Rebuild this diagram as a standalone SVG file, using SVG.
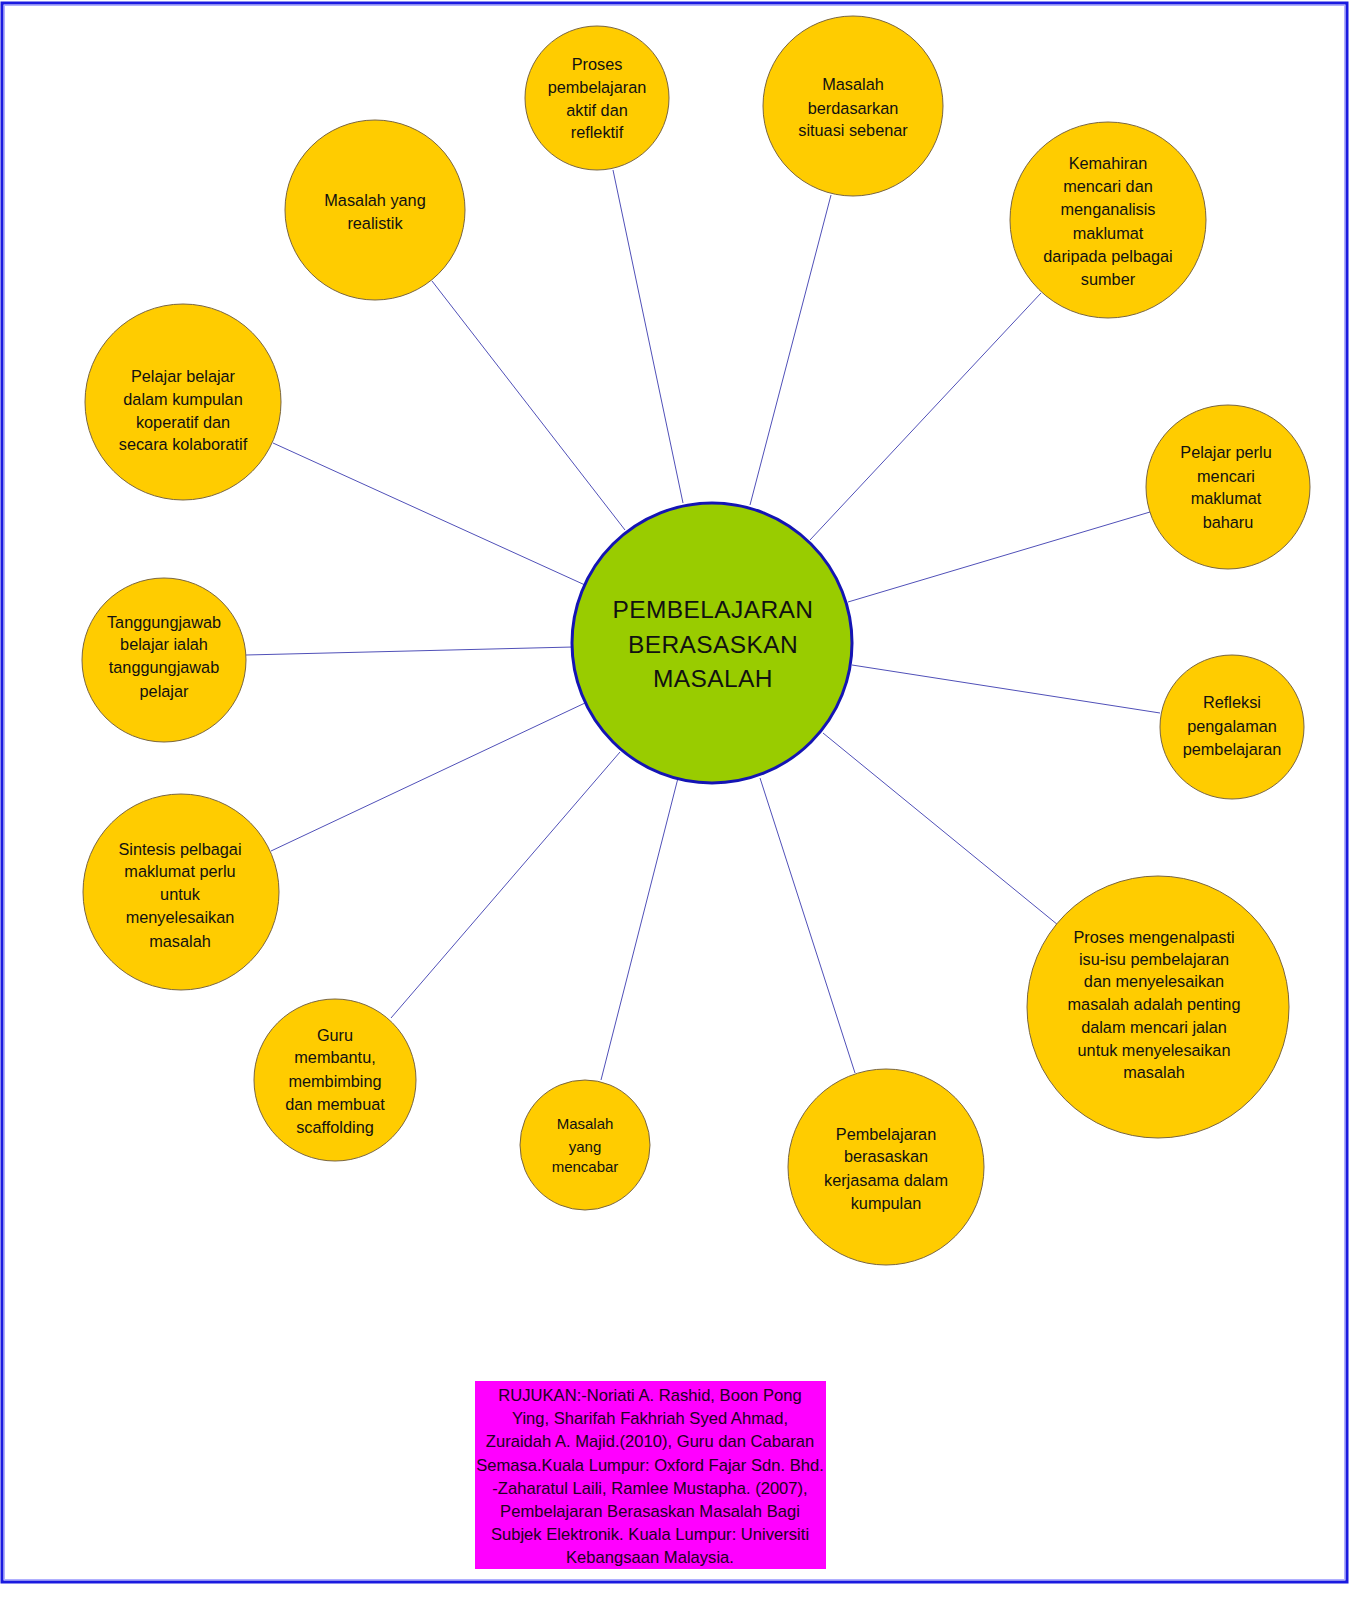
<svg xmlns="http://www.w3.org/2000/svg" width="1364" height="1600" viewBox="0 0 1364 1600">
<style>
.n{fill:#ffcc00;stroke:#7a6640;stroke-width:1}
.t{font-family:"Liberation Sans",Arial,sans-serif;font-size:16.3px;fill:#111;text-anchor:middle}
.c line{stroke:#5050b8;stroke-width:1}
.hub{fill:#99cc00;stroke:#1414b4;stroke-width:3}
.ht{font-family:"Liberation Sans",Arial,sans-serif;font-size:24.5px;fill:#111;text-anchor:middle;letter-spacing:0.4px}
.rt{font-family:"Liberation Sans",Arial,sans-serif;font-size:16.6px;fill:#220022;text-anchor:middle}
</style>
<rect x="0" y="0" width="1364" height="1600" fill="#ffffff"/>
<rect x="2" y="3" width="1345" height="1579" fill="none" stroke="#1a1ae0" stroke-width="3"/>
<rect x="4.5" y="5.5" width="1340" height="1574" fill="none" stroke="#b0b0ff" stroke-width="1"/>
<g class="c" id="connectors">
<line x1="625" y1="530" x2="432" y2="281"/>
<line x1="683" y1="503" x2="613" y2="170"/>
<line x1="750" y1="505" x2="831" y2="195"/>
<line x1="810" y1="540" x2="1041" y2="293"/>
<line x1="848" y1="602" x2="1150" y2="512"/>
<line x1="852" y1="665" x2="1160" y2="713"/>
<line x1="823" y1="733" x2="1058" y2="925"/>
<line x1="760" y1="778" x2="855" y2="1073"/>
<line x1="678" y1="778" x2="601" y2="1080"/>
<line x1="620" y1="752" x2="391" y2="1018"/>
<line x1="585" y1="703" x2="271" y2="851"/>
<line x1="573" y1="647" x2="246" y2="655"/>
<line x1="585" y1="585" x2="273" y2="443"/>
</g>
<g id="hub">
<circle class="hub" cx="712" cy="643" r="140"/>
<text class="ht" x="713" y="618">PEMBELAJARAN</text>
<text class="ht" x="713" y="653">BERASASKAN</text>
<text class="ht" x="713" y="687">MASALAH</text>
</g>
<g id="n1">
<circle class="n" cx="597" cy="98" r="72"/>
<text class="t" x="597" y="70">Proses</text>
<text class="t" x="597" y="93">pembelajaran</text>
<text class="t" x="597" y="116">aktif dan</text>
<text class="t" x="597" y="138">reflektif</text>
</g>
<g id="n2">
<circle class="n" cx="853" cy="106" r="90"/>
<text class="t" x="853" y="90">Masalah</text>
<text class="t" x="853" y="114">berdasarkan</text>
<text class="t" x="853" y="136">situasi sebenar</text>
</g>
<g id="n3">
<circle class="n" cx="1108" cy="220" r="98"/>
<text class="t" x="1108" y="169">Kemahiran</text>
<text class="t" x="1108" y="192">mencari dan</text>
<text class="t" x="1108" y="215">menganalisis</text>
<text class="t" x="1108" y="239">maklumat</text>
<text class="t" x="1108" y="262">daripada pelbagai</text>
<text class="t" x="1108" y="285">sumber</text>
</g>
<g id="n4">
<circle class="n" cx="1228" cy="487" r="82"/>
<text class="t" x="1226" y="458">Pelajar perlu</text>
<text class="t" x="1226" y="482">mencari</text>
<text class="t" x="1226" y="504">maklumat</text>
<text class="t" x="1228" y="528">baharu</text>
</g>
<g id="n5">
<circle class="n" cx="1232" cy="727" r="72"/>
<text class="t" x="1232" y="708">Refleksi</text>
<text class="t" x="1232" y="732">pengalaman</text>
<text class="t" x="1232" y="755">pembelajaran</text>
</g>
<g id="n6">
<circle class="n" cx="1158" cy="1007" r="131"/>
<text class="t" x="1154" y="943">Proses mengenalpasti</text>
<text class="t" x="1154" y="965">isu-isu pembelajaran</text>
<text class="t" x="1154" y="987">dan menyelesaikan</text>
<text class="t" x="1154" y="1010">masalah adalah penting</text>
<text class="t" x="1154" y="1033">dalam mencari jalan</text>
<text class="t" x="1154" y="1056">untuk menyelesaikan</text>
<text class="t" x="1154" y="1078">masalah</text>
</g>
<g id="n7">
<circle class="n" cx="886" cy="1167" r="98"/>
<text class="t" x="886" y="1140">Pembelajaran</text>
<text class="t" x="886" y="1162">berasaskan</text>
<text class="t" x="886" y="1186">kerjasama dalam</text>
<text class="t" x="886" y="1209">kumpulan</text>
</g>
<g id="n8">
<circle class="n" cx="585" cy="1145" r="65"/>
<text class="t" x="585" y="1129" style="font-size:15px">Masalah</text>
<text class="t" x="585" y="1152" style="font-size:15px">yang</text>
<text class="t" x="585" y="1172" style="font-size:15px">mencabar</text>
</g>
<g id="n9">
<circle class="n" cx="335" cy="1080" r="81"/>
<text class="t" x="335" y="1041">Guru</text>
<text class="t" x="335" y="1063">membantu,</text>
<text class="t" x="335" y="1087">membimbing</text>
<text class="t" x="335" y="1110">dan membuat</text>
<text class="t" x="335" y="1133">scaffolding</text>
</g>
<g id="n10">
<circle class="n" cx="181" cy="892" r="98"/>
<text class="t" x="180" y="855">Sintesis pelbagai</text>
<text class="t" x="180" y="877">maklumat perlu</text>
<text class="t" x="180" y="900">untuk</text>
<text class="t" x="180" y="923">menyelesaikan</text>
<text class="t" x="180" y="947">masalah</text>
</g>
<g id="n11">
<circle class="n" cx="164" cy="660" r="82"/>
<text class="t" x="164" y="628">Tanggungjawab</text>
<text class="t" x="164" y="650">belajar ialah</text>
<text class="t" x="164" y="673">tanggungjawab</text>
<text class="t" x="164" y="697">pelajar</text>
</g>
<g id="n12">
<circle class="n" cx="183" cy="402" r="98"/>
<text class="t" x="183" y="382">Pelajar belajar</text>
<text class="t" x="183" y="405">dalam kumpulan</text>
<text class="t" x="183" y="428">koperatif dan</text>
<text class="t" x="183" y="450">secara kolaboratif</text>
</g>
<g id="n13">
<circle class="n" cx="375" cy="210" r="90"/>
<text class="t" x="375" y="206">Masalah yang</text>
<text class="t" x="375" y="229">realistik</text>
</g>
<g id="ref">
<rect x="475" y="1381" width="351" height="188" fill="#ff00ff"/>
<text class="rt" x="650" y="1401">RUJUKAN:-Noriati A. Rashid, Boon Pong</text>
<text class="rt" x="650" y="1424">Ying, Sharifah Fakhriah Syed Ahmad,</text>
<text class="rt" x="650" y="1447">Zuraidah A. Majid.(2010), Guru dan Cabaran</text>
<text class="rt" x="650" y="1471">Semasa.Kuala Lumpur: Oxford Fajar Sdn. Bhd.</text>
<text class="rt" x="650" y="1494">-Zaharatul Laili, Ramlee Mustapha. (2007),</text>
<text class="rt" x="650" y="1517">Pembelajaran Berasaskan Masalah Bagi</text>
<text class="rt" x="650" y="1540">Subjek Elektronik. Kuala Lumpur: Universiti</text>
<text class="rt" x="650" y="1563">Kebangsaan Malaysia.</text>
</g>
</svg>
